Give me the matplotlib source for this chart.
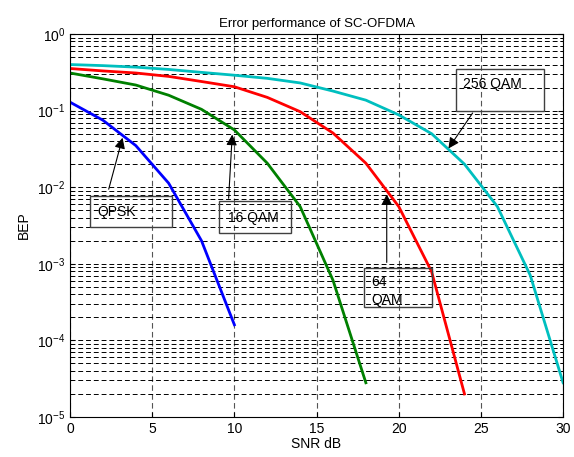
import matplotlib
matplotlib.use("Agg")
import matplotlib.pyplot as plt
from matplotlib.patches import Rectangle

plt.rcParams["font.family"] = ["Liberation Sans", "DejaVu Sans"]
plt.rcParams["mathtext.fontset"] = "custom"
plt.rcParams["mathtext.rm"] = "Liberation Sans"
plt.rcParams["mathtext.it"] = "Liberation Sans:italic"

snr_qpsk = [0, 2, 4, 6, 8, 10]
bep_qpsk = [0.129, 0.075, 0.035, 0.0113, 0.0020, 1.6e-4]

snr_16qam = [0, 2, 4, 6, 8, 10, 12, 14, 16, 18]
bep_16qam = [0.31, 0.26, 0.216, 0.159, 0.104, 0.056, 0.0206, 0.0056, 6.1e-4, 2.8e-5]

snr_64qam = [0, 2, 4, 6, 8, 10, 12, 14, 16, 18, 20, 22, 24]
bep_64qam = [0.355, 0.33, 0.31, 0.28, 0.24, 0.205, 0.149, 0.097, 0.051, 0.0206,
             0.0056, 7.9e-4, 2.0e-5]

snr_256qam = [0, 2, 4, 6, 8, 10, 12, 14, 16, 18, 20, 22, 24, 26, 28, 30]
bep_256qam = [0.40, 0.387, 0.37, 0.345, 0.316, 0.29, 0.264, 0.23, 0.18, 0.137,
              0.088, 0.05, 0.020, 0.0056, 7.1e-4, 2.8e-5]

fig = plt.figure(figsize=(5.74, 4.57), dpi=100)
ax = fig.add_axes([0.122, 0.0875, 0.859, 0.838])

ax.semilogy(snr_qpsk, bep_qpsk, color="#0000ff", lw=2)
ax.semilogy(snr_16qam, bep_16qam, color="#008000", lw=2)
ax.semilogy(snr_64qam, bep_64qam, color="#ff0000", lw=2)
ax.semilogy(snr_256qam, bep_256qam, color="#00bfbf", lw=2)

ax.set_xlim(0, 30)
ax.set_ylim(1e-5, 1)
ax.set_xticks([0, 5, 10, 15, 20, 25, 30])
ax.grid(True, which="major", axis="x", color="#555555", ls=(0, (5, 3)), lw=0.8)
ax.grid(True, which="both", axis="y", color="black", ls=(0, (5, 3)), lw=0.7)
ax.tick_params(which="both", direction="in", top=True, right=True, labelsize=10)
ax.tick_params(axis="y", which="minor", labelleft=False)
for s in ax.spines.values():
    s.set_linewidth(0.8)

ax.set_title("Error performance of SC-OFDMA", fontsize=9.5, pad=5)
ax.set_xlabel("SNR dB", fontsize=10, labelpad=1)
ax.set_ylabel("BEP", fontsize=10, labelpad=4)

box_color = "#404040"


def label_box(x0, x1, y0, y1):
    ax.add_patch(Rectangle((x0, y0), x1 - x0, y1 - y0, fill=False,
                           edgecolor=box_color, lw=1.0, zorder=4))


arrow = dict(arrowstyle="-|>", color="black", lw=0.8, mutation_scale=16)

label_box(1.22, 6.19, 0.0030, 0.00767)
ax.text(1.64, 0.0048, "QPSK", fontsize=10, va="center", zorder=5)
ax.annotate("", xy=(3.24, 0.048), xytext=(2.31, 0.0087), arrowprops=arrow)

label_box(9.09, 13.45, 0.0025, 0.0066)
ax.text(9.62, 0.0040, "16 QAM", fontsize=10, va="center", zorder=5)
ax.annotate("", xy=(9.88, 0.053), xytext=(9.64, 0.0066), arrowprops=arrow)

label_box(23.48, 28.81, 0.0997, 0.346)
ax.text(23.92, 0.222, "256 QAM", fontsize=10, va="center", zorder=5)
ax.annotate("", xy=(22.93, 0.0299), xytext=(24.59, 0.0998), arrowprops=arrow)

label_box(17.89, 22.05, 2.75e-4, 8.9e-4)
ax.text(18.32, 5.8e-4, "64", fontsize=10, va="center", zorder=5)
ax.text(18.32, 3.4e-4, "QAM", fontsize=10, va="center", zorder=5)
ax.annotate("", xy=(19.27, 0.0088), xytext=(19.27, 9.6e-4), arrowprops=arrow)

fig.savefig("out.png", dpi=100)
